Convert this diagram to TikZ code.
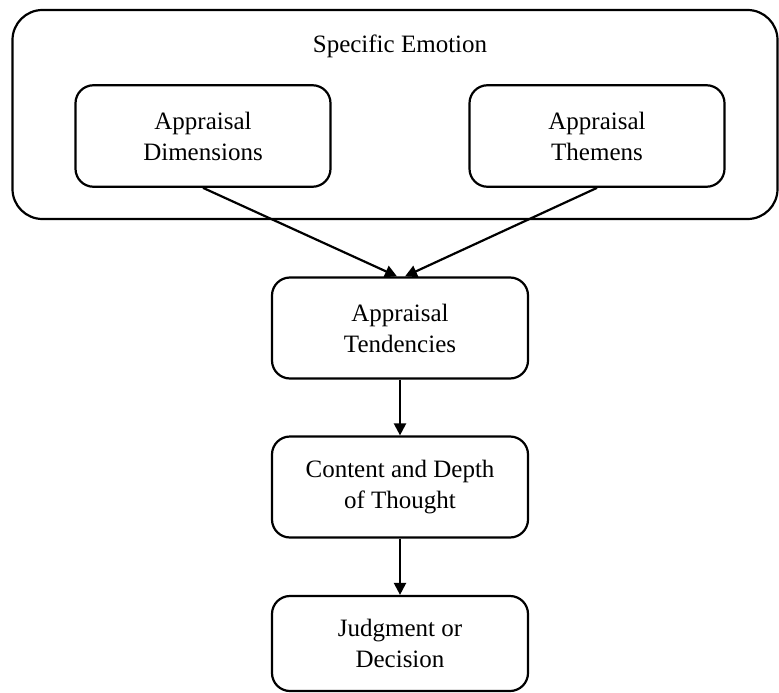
\documentclass[tikz,border=0pt]{standalone}
\usepackage{fontspec}
\setmainfont{Liberation Serif}
\usetikzlibrary{arrows.meta}
\begin{document}
\begin{tikzpicture}[x=1pt,y=-1pt,
  every node/.style={font=\fontsize{25}{31}\selectfont},
  outerbox/.style={draw,line width=2.2pt,rounded corners=30pt,inner sep=0pt},
  box/.style={draw,line width=2.2pt,rounded corners=18pt,align=center,inner sep=0pt},
  conn/.style={line width=2.2pt,-{Triangle[length=12pt,width=12pt]}}]
\useasboundingbox (0,0) rectangle (779,693);
\node[outerbox,minimum width=765pt,minimum height=209pt] (outer) at (395,114.5) {};
\node (title) at (400,46) {Specific Emotion};
\node[box,minimum width=255pt,minimum height=101.5pt] (dim) at (203,136) {Appraisal\\Dimensions};
\node[box,minimum width=255pt,minimum height=101.5pt] (them) at (597,136) {Appraisal\\Themens};
\node[box,minimum width=256pt,minimum height=101pt] (tend) at (400,328) {Appraisal\\Tendencies};
\node[box,minimum width=256pt,minimum height=101pt] (cont) at (400,487) {Content and Depth\\of Thought};
\node[box,minimum width=256pt,minimum height=95pt] (judg) at (400,643.5) {Judgment or\\Decision};
\coordinate (tl) at ([xshift=-3pt]tend.north);
\coordinate (tr) at ([xshift=5pt]tend.north);
\draw[conn] (dim.south) -- (tl);
\draw[conn] (them.south) -- (tr);
\draw[conn] (tend.south) -- (cont.north);
\draw[conn] (cont.south) -- (judg.north);
\end{tikzpicture}
\end{document}
